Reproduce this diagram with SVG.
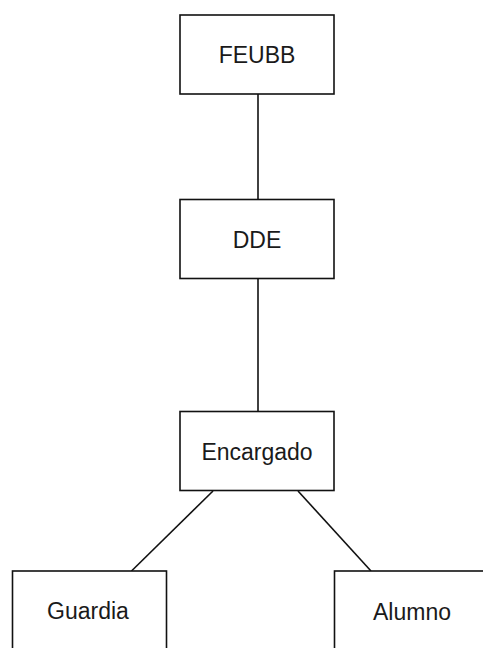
<svg xmlns="http://www.w3.org/2000/svg" width="483" height="648" viewBox="0 0 483 648">
<style>
.box{fill:#fff;stroke:#111;stroke-width:1.6}
.lbl{font-family:"Liberation Sans",Arial,sans-serif;font-size:23px;fill:#1a1a1a;text-anchor:middle}
.con{stroke:#111;stroke-width:1.6;fill:none}
</style>
<rect width="483" height="648" fill="#fff"/>
<g id="connectors">
<line class="con" x1="258" y1="94" x2="258" y2="199"/>
<line class="con" x1="258" y1="279" x2="258" y2="411"/>
<line class="con" x1="213" y1="491" x2="131.5" y2="571"/>
<line class="con" x1="298" y1="491" x2="371" y2="571"/>
</g>
<g id="FEUBB"><rect class="box" x="180" y="15" width="154" height="79"/><text class="lbl" x="257" y="63">FEUBB</text></g>
<g id="DDE"><rect class="box" x="180" y="199.5" width="154" height="79"/><text class="lbl" x="257" y="248">DDE</text></g>
<g id="Encargado"><rect class="box" x="180" y="411.5" width="154" height="79"/><text class="lbl" x="257" y="460">Encargado</text></g>
<g id="Guardia"><rect class="box" x="12.5" y="571" width="154" height="79"/><text class="lbl" x="88" y="619">Guardia</text></g>
<g id="Alumno"><rect class="box" x="334.5" y="571" width="154" height="79"/><text class="lbl" x="412" y="620">Alumno</text></g>
</svg>
